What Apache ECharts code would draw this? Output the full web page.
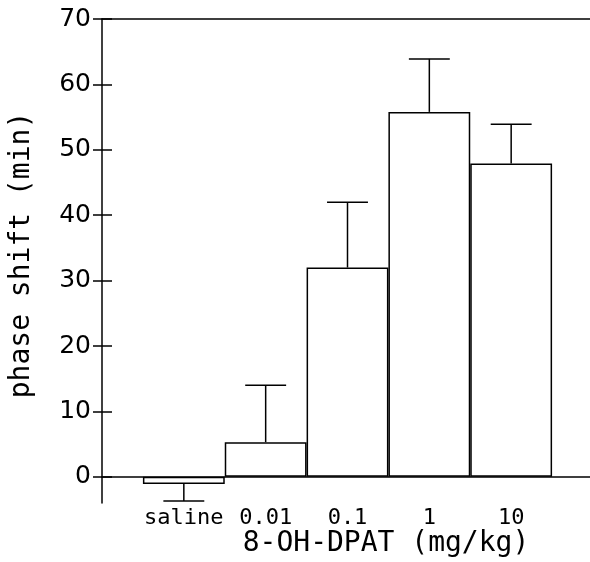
<!DOCTYPE html>
<html><head><meta charset="utf-8">
<script src="https://cdn.jsdelivr.net/npm/echarts@6/dist/echarts.min.js"></script>
<style>html,body{margin:0;padding:0;background:#fff}#c{width:590px;height:562px}</style>
</head><body><div id="c"></div>
<script>
const categories = ['saline', '0.01', '0.1', '1', '10'];
const means = [-1.1, 5.3, 32.0, 55.8, 47.9];
const errorEnds = [-3.7, 14.0, 42.0, 63.9, 53.9];
const yTicks = [0, 10, 20, 30, 40, 50, 60, 70];
const yName = 'phase shift (min)';
const xName = '8-OH-DPAT (mg/kg)';

const axisCats = [''].concat(categories, ['']);
const barData = means.map((v, i) => [i + 1, v]);
const errData = means.map((v, i) => [i + 1, v, errorEnds[i]]);
const lineStyle = {color: '#000', width: 1.5};

const chart = echarts.init(document.getElementById('c'));
chart.setOption({
  animation: false,
  backgroundColor: '#fff',
  grid: {left: 102, width: 491, top: 19, height: 484, containLabel: false, outerBoundsMode: 'none'},
  xAxis: [{
    type: 'category', data: axisCats, boundaryGap: false,
    axisLine: {show: true, onZero: true, lineStyle: lineStyle},
    axisTick: {show: false},
    axisLabel: {show: true, interval: 0, margin: 4, color: '#000',
      fontFamily: 'DejaVu Sans Mono', fontSize: 22},
    splitLine: {show: false}
  }, {
    type: 'category', data: axisCats, boundaryGap: false, position: 'top',
    axisLine: {show: true, onZero: false, lineStyle: lineStyle},
    axisTick: {show: false}, axisLabel: {show: false}, splitLine: {show: false}
  }],
  yAxis: [{
    type: 'value', min: -4, max: 70,
    axisLine: {show: true, lineStyle: lineStyle},
    axisTick: {show: true, customValues: yTicks, length: 9, inside: false, lineStyle: lineStyle},
    axisLabel: {show: true, customValues: yTicks, margin: 11, color: '#000',
      fontFamily: 'DejaVu Sans', fontSize: 25},
    splitLine: {show: false}
  }, {
    type: 'value', min: -4, max: 70, position: 'left',
    axisLine: {show: false},
    axisTick: {show: true, customValues: yTicks, length: 10, inside: true, lineStyle: lineStyle},
    axisLabel: {show: false}, splitLine: {show: false}
  }],
  graphic: [{
    type: 'text', x: 22, y: 255, rotation: Math.PI / 2,
    style: {text: yName, fill: '#000', font: '28px "DejaVu Sans Mono"', align: 'center', verticalAlign: 'middle'}
  }, {
    type: 'text', x: 386, y: 544,
    style: {text: xName, fill: '#000', font: '28px "DejaVu Sans Mono"', align: 'center', verticalAlign: 'middle'}
  }],
  series: [{
    type: 'bar', data: barData, barCategoryGap: '0%', barWidth: '100%',
    itemStyle: {color: '#fff', borderColor: '#000', borderWidth: 1.5},
    z: 2
  }, {
    type: 'custom', data: errData, z: 3,
    renderItem: function (params, api) {
      const x = api.value(0);
      const p0 = api.coord([x, api.value(1)]);
      const p1 = api.coord([x, api.value(2)]);
      const half = api.size([1, 0])[0] * 0.25;
      const st = {stroke: '#000', lineWidth: 1.5};
      return {type: 'group', children: [
        {type: 'line', shape: {x1: p0[0], y1: p0[1], x2: p1[0], y2: p1[1]}, style: st},
        {type: 'line', shape: {x1: p1[0] - half, y1: p1[1], x2: p1[0] + half, y2: p1[1]}, style: st}
      ]};
    }
  }]
});
</script></body></html>
